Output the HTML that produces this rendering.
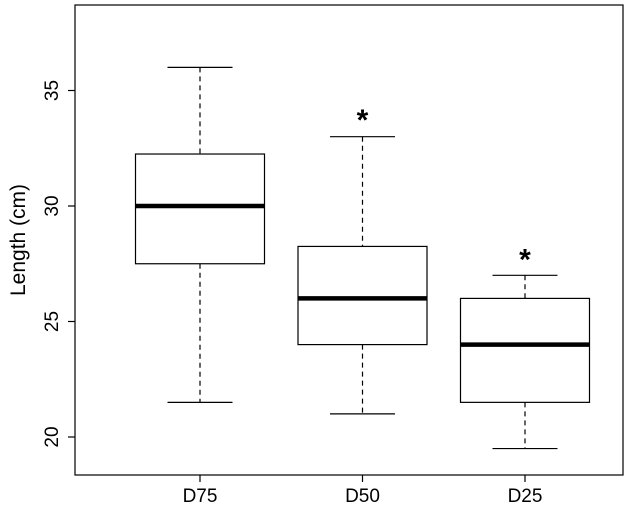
<!DOCTYPE html>
<html><head><meta charset="utf-8"><style>
html,body{margin:0;padding:0;background:#fff;}
svg{display:block;font-family:"Liberation Sans",Arial,sans-serif;}
</style></head><body>
<svg id="chart" width="630" height="526" viewBox="0 0 630 526"></svg>
<script>
const categories = ["D75","D50","D25"];
const whiskerHigh = [36, 33, 27];
const q3 = [32.25, 28.25, 26];
const medians = [30, 26, 24];
const q1 = [27.5, 24, 21.5];
const whiskerLow = [21.5, 21, 19.5];
const outlierMarks = [null, 33.9, 27.85];
const yTicks = [20, 25, 30, 35];

const NS = "http://www.w3.org/2000/svg";
const svg = document.getElementById("chart");
const plot = {l: 75, r: 623, t: 5, b: 475};
function y(v){ return 206 - (v - 30) * 23.1; }
function x(i){ return 200 + i * 162.5; }
function el(tag, attrs, parent){
  const e = document.createElementNS(NS, tag);
  for (const k in attrs) e.setAttribute(k, attrs[k]);
  (parent || svg).appendChild(e);
  return e;
}
const frame = el("rect", {x: plot.l, y: plot.t, width: plot.r - plot.l, height: plot.b - plot.t, fill: "none", stroke: "#000", "stroke-width": 1.2});



yTicks.forEach(v => {
  const t = el("line", {x1: plot.l - 7, x2: plot.l, y1: y(v), y2: y(v), stroke: "#000", "stroke-width": 1.2});
  
  
  const lb = el("text", {x: 0, y: 0, "font-size": 19, "text-anchor": "middle", transform: `translate(${plot.l - 17},${y(v)}) rotate(-90)`});
  lb.textContent = v;
  
  
});
const yt = el("text", {x: 0, y: 0, "font-size": 21, "text-anchor": "middle", transform: "translate(25,240) rotate(-90)"});
yt.textContent = "Length (cm)";



const bw = 129, cw = 65;
categories.forEach((c, i) => {
  const cx = x(i);
  const g = el("g", {});
  
  
  el("line", {x1: cx, x2: cx, y1: y(whiskerHigh[i]), y2: y(q3[i]), stroke: "#000", "stroke-width": 1.2, "stroke-dasharray": "5,4"}, g);
  el("line", {x1: cx, x2: cx, y1: y(q1[i]), y2: y(whiskerLow[i]), stroke: "#000", "stroke-width": 1.2, "stroke-dasharray": "5,4"}, g);
  el("line", {x1: cx - cw/2, x2: cx + cw/2, y1: y(whiskerHigh[i]), y2: y(whiskerHigh[i]), stroke: "#000", "stroke-width": 1.2}, g);
  el("line", {x1: cx - cw/2, x2: cx + cw/2, y1: y(whiskerLow[i]), y2: y(whiskerLow[i]), stroke: "#000", "stroke-width": 1.2}, g);
  el("rect", {x: cx - bw/2, y: y(q3[i]), width: bw, height: y(q1[i]) - y(q3[i]), fill: "#fff", stroke: "#000", "stroke-width": 1.2}, g);
  el("line", {x1: cx - bw/2, x2: cx + bw/2, y1: y(medians[i]), y2: y(medians[i]), stroke: "#000", "stroke-width": 4.5}, g);
  if (outlierMarks[i] !== null) {
    const s = el("text", {x: cx, y: y(outlierMarks[i]) + 14, "font-size": 30, "font-weight": "bold", "text-anchor": "middle"});
    s.textContent = "*";
    
    
  }
  const t = el("line", {x1: cx, x2: cx, y1: plot.b, y2: plot.b + 7, stroke: "#000", "stroke-width": 1.2});
  
  
  const lb = el("text", {x: cx, y: plot.b + 27, "font-size": 19, "text-anchor": "middle"});
  lb.textContent = c;
  
  
});
</script>
</body></html>
